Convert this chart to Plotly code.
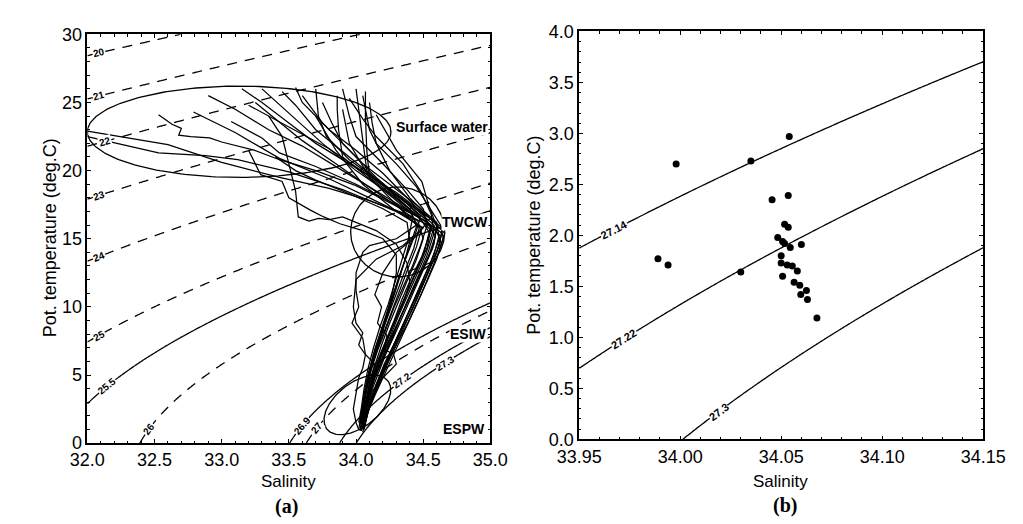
import numpy as np
import plotly.graph_objects as go

# ---------------- data ----------------
# Panel (a): CTD theta-S profiles (salinity, potential temperature), surface -> depth
profile_S = [
    [32.00,32.60,33.00,33.43,33.80,34.10,34.35,34.56,34.53,34.46,34.39,34.32,34.26,34.19,34.14,34.10,34.07,34.05],
    [32.00,32.30,32.53,32.88,33.12,33.50,33.90,34.20,34.42,34.39,34.34,34.29,34.24,34.18,34.13,34.09,34.06,34.04,34.02],
    [32.53,32.63,32.70,32.68,32.77,32.91,33.00,33.24,33.43,33.70,34.00,34.30,34.52,34.64,34.60,34.54,34.47,34.40,34.33,34.26,34.19,34.13,34.09,34.06],
    [32.79,33.10,33.43,33.80,34.10,34.35,34.49,34.45,34.39,34.33,34.27,34.21,34.15,34.11,34.07,34.05,34.03],
    [33.07,33.30,33.43,33.70,34.00,34.30,34.50,34.62,34.58,34.51,34.44,34.37,34.30,34.23,34.17,34.12,34.08,34.06],
    [33.30,33.50,33.75,34.00,34.25,34.42,34.55,34.51,34.44,34.37,34.31,34.25,34.19,34.14,34.10,34.06,34.04],
    [33.45,33.55,33.70,33.95,34.20,34.42,34.58,34.63,34.57,34.50,34.42,34.35,34.28,34.21,34.15,34.10,34.07],
    [33.86,33.86,33.87,33.90,34.05,34.25,34.40,34.47,34.43,34.37,34.31,34.25,34.19,34.14,34.10,34.07,34.05,34.04],
    [34.00,34.02,34.05,34.08,34.25,34.40,34.45,34.40,34.35,34.29,34.24,34.19,34.14,34.10,34.07,34.05,34.03],
    [34.10,34.12,34.15,34.30,34.45,34.55,34.63,34.65,34.60,34.53,34.46,34.39,34.31,34.24,34.18,34.12,34.08,34.05],
    [33.60,33.75,33.95,34.15,34.35,34.52,34.59,34.54,34.47,34.40,34.33,34.27,34.20,34.14,34.10,34.07,34.05],
    [33.25,33.40,33.60,33.85,34.10,34.32,34.46,34.50,34.45,34.38,34.31,34.25,34.19,34.14,34.10,34.07,34.05],
    [33.20,33.29,33.45,33.50,33.66,33.76,33.88,34.05,34.20,34.30,34.30,34.27,34.23,34.18,34.13,34.09,34.06,34.04,34.02],
    [33.35,33.45,33.50,33.55,33.57,33.65,33.72,33.80,33.90,34.00,34.15,34.30,34.38,34.40,34.36,34.30,34.24,34.18,34.13,34.09,34.06,34.04],
    [33.90,33.95,34.10,34.30,34.45,34.30,34.10,34.05,34.00,34.00,34.02,33.97,34.05,34.07,34.14,34.10,34.07,34.05,34.04],
    [34.05,34.10,34.25,34.40,34.55,34.45,34.30,34.20,34.14,34.19,34.16,34.23,34.21,34.28,34.30,34.20,34.12,34.08,34.05],
    [33.70,33.85,34.05,34.30,34.50,34.35,34.15,34.00,33.98,34.00,34.05,34.02,34.07,34.05,34.02,34.00,33.98,34.00,34.02],
    [33.55,33.60,33.80,34.00,34.20,34.38,34.50,34.57,34.52,34.45,34.38,34.31,34.25,34.18,34.13,34.09,34.07,34.05],
    [33.15,33.30,33.50,33.70,34.00,34.30,34.50,34.64,34.62,34.56,34.49,34.42,34.34,34.27,34.20,34.14,34.10,34.07],
    [34.15,34.30,34.49,34.54,34.60,34.58,34.51,34.43,34.36,34.29,34.22,34.16,34.11,34.08,34.05],
    [33.70,33.72,33.78,33.95,34.20,34.38,34.48,34.44,34.38,34.32,34.27,34.22,34.17,34.12,34.08,34.06,34.04,34.03],
    [32.90,33.10,33.35,33.60,33.90,34.20,34.45,34.60,34.57,34.50,34.43,34.36,34.29,34.22,34.16,34.11,34.07,34.05],
    [33.90,33.95,34.00,34.20,34.38,34.50,34.53,34.48,34.42,34.35,34.28,34.22,34.16,34.11,34.08,34.05,34.03],
    [33.40,33.55,33.70,33.95,34.20,34.38,34.40,34.36,34.31,34.26,34.21,34.16,34.11,34.08,34.05,34.03],
    [33.20,33.35,33.50,33.80,34.10,34.35,34.55,34.66,34.61,34.55,34.48,34.41,34.34,34.27,34.20,34.14,34.09,34.06],
    [33.95,34.05,34.15,34.35,34.48,34.56,34.58,34.53,34.46,34.39,34.32,34.25,34.19,34.13,34.09,34.06,34.04],
    [34.07,34.07,34.08,34.10,34.30,34.47,34.55,34.49,34.41,34.34,34.28,34.21,34.15,34.11,34.07,34.05],
    [33.75,33.82,33.90,34.05,34.25,34.45,34.60,34.62,34.56,34.49,34.42,34.35,34.28,34.21,34.15,34.10,34.07],
]
profile_T = [
    [22.9,21.9,20.6,19.5,18.7,17.8,16.9,15.9,14.4,12.8,11.2,9.7,8.2,6.7,5.3,3.9,2.6,1.3],
    [22.5,21.8,21.3,21.1,20.8,19.9,18.6,17.4,16.5,15.0,13.4,11.8,10.2,8.6,7.0,5.5,4.0,2.6,1.5],
    [24.1,23.4,23.1,22.6,22.5,22.4,22.1,21.5,20.8,20.0,18.9,17.4,16.3,15.4,14.0,12.6,11.0,9.5,7.9,6.4,4.9,3.5,2.3,1.0],
    [24.3,22.8,20.9,19.4,18.0,16.8,15.8,14.4,12.9,11.3,9.7,8.2,6.7,5.2,3.8,2.4,0.9],
    [23.6,22.4,21.3,20.3,19.0,17.5,16.4,15.3,13.8,12.2,10.6,9.1,7.6,6.1,4.7,3.4,2.2,1.6],
    [26.0,24.2,22.0,20.0,18.3,17.0,15.7,14.1,12.5,11.0,9.5,8.0,6.5,5.0,3.6,2.3,1.1],
    [25.8,24.8,23.0,21.0,19.0,17.4,16.0,14.8,13.3,11.8,10.2,8.7,7.2,5.8,4.3,2.9,1.7],
    [25.5,24.5,23.0,21.0,19.8,18.2,17.0,15.8,14.3,12.8,11.2,9.7,8.1,6.6,5.1,3.7,2.4,1.4],
    [26.0,24.5,22.0,20.0,18.5,17.2,15.9,14.5,13.0,11.4,9.9,8.4,6.9,5.4,4.0,2.8,1.7],
    [25.0,23.5,22.0,20.5,18.8,17.3,16.0,15.0,13.5,11.9,10.4,8.9,7.4,6.0,4.5,3.2,2.0,0.8],
    [25.5,23.5,21.5,19.5,17.8,16.4,15.2,13.7,12.2,10.7,9.2,7.7,6.2,4.8,3.5,2.2,1.2],
    [25.0,23.8,22.2,20.5,18.8,17.3,16.3,15.0,13.5,11.9,10.3,8.8,7.2,5.7,4.3,3.0,1.9],
    [21.5,19.7,19.2,18.0,17.1,16.6,16.1,15.6,15.0,13.8,12.5,11.0,9.5,8.0,6.5,5.0,3.5,2.2,1.0],
    [24.0,22.5,20.5,18.5,16.6,16.3,16.5,16.4,16.6,16.2,15.6,14.6,13.2,11.8,10.5,9.2,7.7,6.3,4.9,3.5,2.3,1.2],
    [24.5,22.0,19.5,17.5,16.0,15.0,14.5,14.0,12.5,11.2,10.0,8.8,7.7,6.5,5.8,4.5,3.0,1.8,0.9],
    [25.5,23.0,20.0,18.0,16.5,15.2,14.0,12.5,10.9,10.0,8.8,7.9,6.9,6.5,5.8,4.8,3.8,2.6,1.5],
    [24.0,21.5,19.0,17.0,15.8,14.5,13.5,12.0,10.0,8.8,8.1,7.2,6.5,5.5,4.8,3.5,2.5,1.5,1.0],
    [26.1,25.0,23.0,21.5,19.8,18.0,16.8,15.5,13.9,12.3,10.8,9.2,7.7,6.2,4.7,3.4,2.1,1.0],
    [26.0,25.0,23.5,22.0,20.2,18.4,16.9,15.8,14.5,13.0,11.4,9.8,8.3,6.8,5.3,3.9,2.7,1.6],
    [24.1,21.5,19.2,17.5,15.9,14.6,13.1,11.5,9.9,8.4,6.9,5.4,4.0,2.6,1.3],
    [26.0,24.0,22.5,20.8,19.0,17.6,16.6,15.3,13.8,12.2,10.6,9.0,7.5,6.0,4.6,3.3,2.1,1.4],
    [25.5,24.5,23.0,21.8,20.0,18.2,16.7,15.7,14.3,12.7,11.1,9.5,8.0,6.5,5.0,3.7,2.5,1.3],
    [26.0,24.0,22.5,20.5,18.6,17.2,16.0,14.5,13.0,11.4,9.9,8.3,6.8,5.3,3.9,2.6,1.5],
    [21.0,20.0,19.3,18.3,17.2,16.2,14.8,13.3,11.7,10.1,8.5,7.0,5.5,4.1,2.8,1.6],
    [24.8,24.0,23.2,21.6,19.6,17.8,16.5,15.4,13.9,12.4,10.8,9.3,7.8,6.3,4.9,3.5,2.3,1.2],
    [25.3,23.8,22.5,20.5,18.5,16.8,15.4,13.8,12.2,10.6,9.0,7.5,6.0,4.6,3.2,2.0,1.0],
    [25.8,24.0,21.5,19.5,18.0,16.6,15.4,13.7,12.1,10.5,8.9,7.3,5.8,4.4,3.0,1.8],
    [25.0,23.5,22.0,20.5,19.0,17.5,16.2,15.0,13.4,11.8,10.2,8.7,7.2,5.7,4.3,3.0,1.8],
]

# Panel (a) isopycnals (sigma-theta) and their labels
a_dashed_levels = [20, 21, 22, 23, 24, 25, 26, 27]
a_solid_levels = [25.5, 26.9, 27.2, 27.3]
a_label_levels = [20, 21, 22, 23, 24, 25, 25.5, 26, 26.9, 27, 27.2, 27.3]
a_label_text = ["20", "21", "22", "23", "24", "25", "25.5", "26", "26.9", "27", "27.2", "27.3"]
a_label_S = [32.09, 32.09, 32.13, 32.09, 32.09, 32.09, 32.15, 32.46, 33.60, 33.71, 34.34, 34.66]

# Panel (a) water-mass ellipses: centre, half-axis vectors (S, T)
ell_names = ["Surface water", "TWCW", "ESPW"]
ell_S0 = [33.13, 34.31, 34.01]
ell_T0 = [22.85, 15.5, 2.8]
ell_u = [(1.13, 0.0), (0.35, 0.0), (0.2275, 1.766)]
ell_v = [(0.0, 3.35), (0.0, 3.3), (-0.0995, 1.271)]

# Panel (a) water-mass labels
wm_text = ["Surface water", "TWCW", "ESIW", "ESPW"]
wm_S = [34.99, 34.99, 34.98, 34.97]
wm_T = [23.2, 16.2, 8.0, 1.05]

# Panel (b): station points
b_S = [33.998, 34.035, 34.054, 33.989, 33.994, 34.030, 34.0455, 34.0535, 34.0517, 34.0535,
       34.0483, 34.0517, 34.0545, 34.060, 34.050, 34.050, 34.053, 34.0555, 34.058, 34.0507,
       34.0564, 34.0592, 34.0597, 34.0625, 34.063, 34.0677, 34.0507]
b_T = [2.70, 2.73, 2.97, 1.77, 1.71, 1.64, 2.35, 2.39, 2.11, 2.08,
       1.98, 1.92, 1.88, 1.91, 1.80, 1.73, 1.71, 1.70, 1.65, 1.60,
       1.54, 1.51, 1.42, 1.46, 1.37, 1.19, 1.94]
b_levels = [27.14, 27.22, 27.3]
b_label_text = ["27.14", "27.22", "27.3"]
b_label_S = [33.967, 33.972, 34.019]

a_xticks = [32.0, 32.5, 33.0, 33.5, 34.0, 34.5, 35.0]
a_yticks = [0, 5, 10, 15, 20, 25, 30]
b_xticks = [33.95, 34.00, 34.05, 34.10, 34.15]
b_yticks = [0.0, 0.5, 1.0, 1.5, 2.0, 2.5, 3.0, 3.5, 4.0]

# ---------------- helpers ----------------
def sigma0(S, T):
    """UNESCO EOS-80 density anomaly at p = 0."""
    rho_w = (999.842594 + 6.793952e-2 * T - 9.095290e-3 * T**2 + 1.001685e-4 * T**3
             - 1.120083e-6 * T**4 + 6.536332e-9 * T**5)
    A = 8.24493e-1 - 4.0899e-3 * T + 7.6438e-5 * T**2 - 8.2467e-7 * T**3 + 5.3875e-9 * T**4
    B = -5.72466e-3 + 1.0227e-4 * T - 1.6546e-6 * T**2
    C = 4.8314e-4
    return rho_w + A * S + B * S**1.5 + C * S**2 - 1000.0


def theta_on(level, S):
    lo, hi = -3.0, 40.0
    for _ in range(80):
        mid = 0.5 * (lo + hi)
        if sigma0(S, mid) > level:
            lo = mid
        else:
            hi = mid
    return 0.5 * (lo + hi)


W, H = 1023, 524
A_BOX = (59, 481, 17, 442)   # left, right, top, bottom (px)
B_BOX = (574, 997, 14, 438)
A_RANGE = ([32.0, 35.0], [0, 30])
B_RANGE = ([33.95, 34.15], [0, 4])


def px_scale(box, rng):
    kx = (box[1] - box[0]) / (rng[0][1] - rng[0][0])
    ky = (box[3] - box[2]) / (rng[1][1] - rng[1][0])
    return kx, ky


def label_angle(level, S, kx, ky):
    d = 0.002 * (1 if kx < 500 else 0.1)
    slope = (theta_on(level, S + d) - theta_on(level, S - d)) / (2 * d)
    return -np.degrees(np.arctan(slope * ky / kx))


FONT = "Liberation Sans, Arial, sans-serif"
fig = go.Figure()

# ---------------- panel (a) ----------------
Sa = np.linspace(A_RANGE[0][0], A_RANGE[0][1], 301)
Ta = np.linspace(A_RANGE[1][0], A_RANGE[1][1], 301)
Za = sigma0(Sa[None, :], Ta[:, None])

for lev in a_dashed_levels + a_solid_levels:
    dash = "solid" if lev in a_solid_levels else "10px,8px"
    fig.add_trace(go.Contour(
        x=Sa, y=Ta, z=Za, autocontour=False,
        contours=dict(start=lev, end=lev, size=0.5, coloring="none"),
        line=dict(color="black", width=1.3, dash=dash, smoothing=1),
        showscale=False, hoverinfo="skip", xaxis="x", yaxis="y"))

for s_list, t_list in zip(profile_S, profile_T):
    fig.add_trace(go.Scatter(x=s_list, y=t_list, mode="lines",
                             line=dict(color="black", width=1.25),
                             hoverinfo="skip", xaxis="x", yaxis="y"))

tt = np.linspace(0, 2 * np.pi, 241)
for s0, t0, u, v in zip(ell_S0, ell_T0, ell_u, ell_v):
    fig.add_trace(go.Scatter(
        x=s0 + u[0] * np.cos(tt) + v[0] * np.sin(tt),
        y=t0 + u[1] * np.cos(tt) + v[1] * np.sin(tt),
        mode="lines", line=dict(color="black", width=1.3),
        hoverinfo="skip", xaxis="x", yaxis="y"))

annotations = []
kxa, kya = px_scale(A_BOX, A_RANGE)
for lev, txt, s in zip(a_label_levels, a_label_text, a_label_S):
    annotations.append(dict(
        x=s, y=theta_on(lev, s), xref="x", yref="y", text=txt, showarrow=False,
        textangle=label_angle(lev, s, kxa, kya), bgcolor="white", borderpad=0,
        font=dict(family=FONT, size=10, color="black", weight="bold")))

for txt, s, t in zip(wm_text, wm_S, wm_T):
    annotations.append(dict(
        x=s, y=t, xref="x", yref="y", text=txt, showarrow=False, xanchor="right",
        bgcolor="white", borderpad=0,
        font=dict(family=FONT, size=14, color="black", weight="bold")))

# ---------------- panel (b) ----------------
Sb = np.linspace(B_RANGE[0][0], B_RANGE[0][1], 201)
Tb = np.linspace(B_RANGE[1][0], B_RANGE[1][1], 201)
Zb = sigma0(Sb[None, :], Tb[:, None])
for lev in b_levels:
    fig.add_trace(go.Contour(
        x=Sb, y=Tb, z=Zb, autocontour=False,
        contours=dict(start=lev, end=lev, size=0.01, coloring="none"),
        line=dict(color="black", width=1.3, smoothing=1),
        showscale=False, hoverinfo="skip", xaxis="x2", yaxis="y2"))

fig.add_trace(go.Scatter(x=b_S, y=b_T, mode="markers",
                         marker=dict(color="black", size=7),
                         hoverinfo="skip", xaxis="x2", yaxis="y2"))

kxb, kyb = px_scale(B_BOX, B_RANGE)
for lev, txt, s in zip(b_levels, b_label_text, b_label_S):
    annotations.append(dict(
        x=s, y=theta_on(lev, s), xref="x2", yref="y2", text=txt, showarrow=False,
        textangle=label_angle(lev, s, kxb, kyb), bgcolor="white", borderpad=0,
        font=dict(family=FONT, size=11, color="black", weight="bold")))

# ---------------- titles ----------------
def paper(xp, yp):
    return xp / W, 1 - yp / H

for txt, (xp, yp), ang, fam, size, wt in [
    ("Salinity", (270, 482), 0, FONT, 17, "normal"),
    ("Salinity", (785, 482), 0, FONT, 17, "normal"),
    ("Pot. temperature (deg.C)", (20, 229), -90, FONT, 18, "normal"),
    ("Pot. temperature (deg.C)", (527, 226), -90, FONT, 18, "normal"),
    ("(a)", (268, 508), 0, "Liberation Serif, Times New Roman, serif", 20, "bold"),
    ("(b)", (789, 507), 0, "Liberation Serif, Times New Roman, serif", 20, "bold"),
]:
    px_, py_ = paper(xp, yp)
    annotations.append(dict(x=px_, y=py_, xref="paper", yref="paper", text=txt,
                            showarrow=False, textangle=ang, xanchor="center", yanchor="middle",
                            font=dict(family=fam, size=size, color="black", weight=wt)))


def axis(box, horizontal, rng, ticks, fmt, minor_dtick, anchor):
    if horizontal:
        dom = [box[0] / W, box[1] / W]
    else:
        dom = [1 - box[3] / H, 1 - box[2] / H]
    return dict(domain=dom, range=rng, tickvals=ticks, tickformat=fmt,
                showgrid=False, zeroline=False, showline=True, linecolor="black",
                linewidth=1.5, mirror="ticks", ticks="inside", ticklen=4, tickwidth=1.2,
                tickcolor="black", anchor=anchor,
                minor=dict(dtick=minor_dtick, ticks="inside", ticklen=2.5,
                           tickcolor="black", tickwidth=1, showgrid=False),
                tickfont=dict(family=FONT, size=18, color="black"))


fig.update_layout(
    width=W, height=H, margin=dict(l=0, r=0, t=0, b=0),
    paper_bgcolor="white", plot_bgcolor="white", showlegend=False,
    xaxis=axis(A_BOX, True, A_RANGE[0], a_xticks, ".1f", 0.1, "y"),
    yaxis=axis(A_BOX, False, A_RANGE[1], a_yticks, "d", 1, "x"),
    xaxis2=axis(B_BOX, True, B_RANGE[0], b_xticks, ".2f", 0.01, "y2"),
    yaxis2=axis(B_BOX, False, B_RANGE[1], b_yticks, ".1f", 0.1, "x2"),
    annotations=annotations,
)

fig.write_html("out.html")
